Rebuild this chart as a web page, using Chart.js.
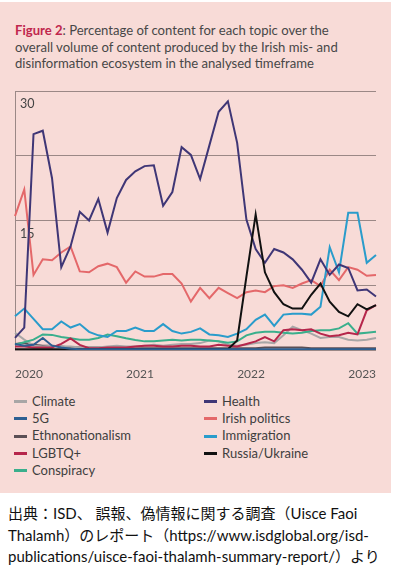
<!DOCTYPE html>
<html>
<head>
    <meta charset="UTF-8">
    <title>Figure 2</title>
    <script src="https://cdn.jsdelivr.net/npm/chart.js"></script>
    <style>
        body { margin: 0; width: 394px; height: 567px; background: #fff; position: relative; overflow: hidden; }
        .panel { position: absolute; left: 0; top: 2px; width: 391px; height: 491px; background: #f8dbd7; }
        .title { position: absolute; left: 15px; top: 22px; font-family: Lato, sans-serif; font-size: 13.1px; line-height: 16.5px; color: #474747; white-space: nowrap; }
        .title b { color: #c0264d; }
        .chart-box { position: absolute; left: 0; top: 0; width: 394px; height: 392px; }
        .legend { position: absolute; top: 393px; font-family: Lato, sans-serif; font-size: 13px; color: #3e3e3e; }
        .legend div { height: 17.2px; line-height: 17.2px; white-space: nowrap; }
        .legend span { display: inline-block; width: 13px; height: 3px; vertical-align: middle; margin-right: 5px; margin-top: -2px; }
        .caption { position: absolute; left: 8px; top: 503px; font-family: Lato, "Noto Sans CJK JP", sans-serif; font-size: 15px; line-height: 21.5px; color: #111; white-space: nowrap; }
    </style>
</head>
<body>
    <div class="panel"></div>
    <div class="title"><b>Figure 2</b>: Percentage of content for each topic over the<br>overall volume of content produced by the Irish mis- and<br>disinformation ecosystem in the analysed timeframe</div>
    <div class="chart-box"><canvas id="topicChart"></canvas></div>
    <div class="legend" id="legLeft" style="left:14px"></div>
    <div class="legend" id="legRight" style="left:204px"></div>
    <div class="caption">出典：ISD、 誤報、偽情報に関する調査（Uisce Faoi<br>Thalamh）のレポート（https://www.isdglobal.org/isd-<br>publications/uisce-faoi-thalamh-summary-report/）より</div>

    <script>
        // monthly, Jan 2020 - Apr 2023
        var months = [];
        for (var y = 2020; y <= 2023; y++) {
            for (var m = 1; m <= 12; m++) {
                if (y === 2023 && m > 4) break;
                months.push(y + '-' + (m < 10 ? '0' + m : m));
            }
        }
        var yTicks = [15, 30];

        var health = [1.4, 2.6, 25.0, 25.4, 19.9, 9.6, 12.0, 16.0, 15.0, 17.5, 13.6, 17.6, 19.7, 20.7, 21.3, 21.4, 16.7, 18.3, 23.5, 22.6,
                      19.8, 23.7, 27.6, 28.8, 24.0, 15.1, 11.7, 10.1, 11.7, 11.3, 10.5, 9.3, 7.8, 10.5, 8.7, 9.9, 9.5, 6.9, 7.0, 6.2];
        var irishPolitics = [15.5, 18.6, 8.7, 10.5, 10.4, 11.3, 12.0, 9.1, 9.0, 9.7, 10.0, 9.6, 7.8, 9.1, 8.5, 8.5, 8.8, 8.8, 7.7, 5.6,
                             7.2, 6.0, 7.2, 6.6, 6.0, 6.7, 6.9, 6.7, 7.4, 7.5, 7.2, 7.7, 8.1, 7.4, 9.3, 8.1, 9.6, 9.3, 8.6, 8.7];
        var immigration = [3.9, 4.8, 3.6, 2.4, 2.4, 3.3, 2.6, 3.0, 2.1, 1.7, 1.5, 2.2, 2.2, 2.6, 2.2, 2.2, 3.0, 2.2, 1.9, 2.1,
                           2.5, 1.8, 1.7, 1.5, 1.9, 2.4, 3.5, 4.1, 2.8, 4.1, 4.2, 4.2, 4.1, 5.0, 11.9, 9.0, 15.9, 15.9, 10.1, 11.0];
        var russiaUkraine = [0.1, 0.1, 0.1, 0.1, 0.1, 0.1, 0.1, 0.1, 0.1, 0.1, 0.1, 0.1, 0.1, 0.1, 0.1, 0.1, 0.1, 0.1, 0.1, 0.1,
                             0.1, 0.1, 0.1, 0.1, 1.1, 8.5, 15.7, 9.0, 6.7, 5.3, 4.8, 4.8, 6.4, 7.7, 5.6, 4.4, 3.9, 5.3, 4.7, 5.2];
        var conspiracy = [0.6, 0.9, 1.2, 1.8, 1.75, 1.5, 1.35, 1.2, 1.2, 1.4, 1.8, 1.6, 1.35, 1.15, 1.0, 1.0, 1.1, 1.2, 1.1, 1.2,
                          1.2, 1.1, 1.0, 0.85, 1.0, 1.7, 2.0, 2.1, 2.1, 2.0, 1.9, 2.0, 2.2, 2.3, 2.3, 2.5, 3.1, 1.9, 2.0, 2.1];
        var lgbtq = [0.4, 0.4, 0.3, 0.3, 0.3, 0.7, 1.35, 0.6, 0.2, 0.2, 0.3, 0.3, 0.3, 0.4, 0.5, 0.5, 0.4, 0.4, 0.5, 0.5,
                     0.4, 0.4, 0.6, 0.5, 0.4, 0.7, 1.0, 1.5, 1.0, 2.3, 2.4, 2.3, 2.4, 1.9, 1.6, 1.7, 2.0, 1.8, 4.6, 5.2];
        var climate = [2.0, 1.2, 0.5, 0.4, 0.5, 0.4, 0.4, 0.3, 0.3, 0.3, 0.4, 0.5, 0.4, 0.4, 0.5, 0.6, 0.5, 0.6, 0.7, 0.7,
                       0.8, 1.1, 1.0, 0.6, 0.5, 0.6, 0.8, 0.9, 0.8, 1.7, 2.7, 2.3, 1.9, 1.4, 1.5, 1.5, 1.2, 1.1, 1.2, 1.4];
        var ethnonationalism = [0.7, 0.8, 0.6, 0.5, 0.5, 0.4, 0.3, 0.3, 0.3, 0.3, 0.3, 0.3, 0.3, 0.2, 0.2, 0.2, 0.2, 0.2, 0.2, 0.2,
                                0.2, 0.2, 0.2, 0.2, 0.2, 0.2, 0.2, 0.3, 0.3, 0.3, 0.3, 0.3, 0.2, 0.2, 0.2, 0.2, 0.2, 0.2, 0.2, 0.2];
        var fiveG = [0.7, 0.5, 0.6, 1.4, 0.5, 0.3, 0.15, 0.1, 0.1, 0.1, 0.1, 0.1, 0.1, 0.1, 0.1, 0.1, 0.1, 0.1, 0.1, 0.1,
                     0.1, 0.1, 0.1, 0.1, 0.1, 0.1, 0.1, 0.1, 0.1, 0.1, 0.1, 0.1, 0.1, 0.1, 0.1, 0.1, 0.1, 0.1, 0.1, 0.1];

        var topics = [
            { label: 'Climate', data: climate, color: '#a8a6a6', col: 0, order: 7 },
            { label: '5G', data: fiveG, color: '#2d5f92', col: 0, order: 0 },
            { label: 'Ethnonationalism', data: ethnonationalism, color: '#5b4f55', col: 0, order: 8 },
            { label: 'LGBTQ+', data: lgbtq, color: '#b6264b', col: 0, order: 5 },
            { label: 'Conspiracy', data: conspiracy, color: '#3aaf8c', col: 0, order: 6 },
            { label: 'Health', data: health, color: '#3f3676', col: 1, order: 2 },
            { label: 'Irish politics', data: irishPolitics, color: '#e4686a', col: 1, order: 4 },
            { label: 'Immigration', data: immigration, color: '#2a9ccb', col: 1, order: 3 },
            { label: 'Russia/Ukraine', data: russiaUkraine, color: '#111111', col: 1, order: 1 }
        ];

        var datasets = topics.map(function (t) {
            return {
                label: t.label,
                data: t.data,
                borderColor: t.color,
                backgroundColor: t.color,
                borderWidth: 2,
                pointRadius: 0,
                tension: 0,
                order: t.order
            };
        });

        // legend in two columns
        topics.forEach(function (t) {
            var row = document.createElement('div');
            row.innerHTML = '<span style="background:' + t.color + '"></span>' + t.label;
            document.getElementById(t.col === 0 ? 'legLeft' : 'legRight').appendChild(row);
        });

        var gridColor = '#9b8886';
        var ctx = document.getElementById('topicChart').getContext('2d');
        new Chart(ctx, {
            type: 'line',
            data: { labels: months, datasets: datasets },
            options: {
                responsive: true,
                maintainAspectRatio: false,
                animation: false,
                layout: { padding: { left: 15, right: 18, top: 91, bottom: 0 } },
                plugins: { legend: { display: false }, tooltip: { enabled: false } },
                scales: {
                    x: {
                        grid: { display: false },
                        border: { display: false },
                        afterFit: function (s) { s.height = 42; },
                        ticks: {
                            autoSkip: false,
                            maxRotation: 0,
                            align: 'start',
                            padding: 9,
                            color: '#555',
                            font: { family: 'Lato', size: 12 },
                            callback: function (v, i) {
                                return months[i].slice(5) === '01' ? months[i].slice(0, 4) : '';
                            }
                        }
                    },
                    y: {
                        min: 0,
                        max: 30,
                        afterFit: function (s) { s.width = 0; },
                        grid: { color: gridColor, lineWidth: 1, drawTicks: false },
                        border: { display: true, color: gridColor, width: 1 },
                        ticks: {
                            stepSize: 7.5,
                            mirror: true,
                            padding: 5,
                            labelOffset: 13,
                            color: '#444',
                            font: { family: 'Lato', size: 12.5 },
                            callback: function (v) {
                                return yTicks.indexOf(v) >= 0 ? String(v) : '';
                            }
                        }
                    }
                }
            }
        });
    </script>
</body>
</html>
